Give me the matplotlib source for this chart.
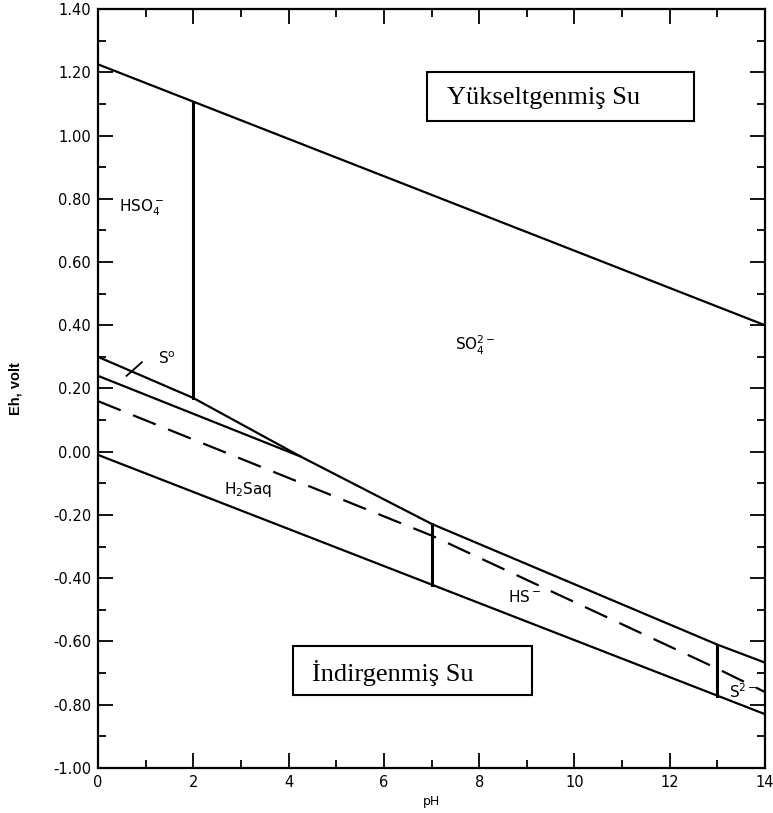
import numpy as np
import matplotlib
matplotlib.use('agg')
from matplotlib import pyplot as plt
from matplotlib.patches import Rectangle
from matplotlib.ticker import MultipleLocator, FormatStrFormatter

# ====================================
# Eh-pH diagram data (S-O-H system)
# ====================================
ph_water = [0, 14]
eh_o2 = [1.225, 0.40]      # upper water stability limit
eh_h2 = [-0.01, -0.83]     # lower water stability limit

ph_sulfate = [0, 2, 4.25, 7, 13, 14]
eh_sulfate = [0.30, 0.17, -0.015, -0.228, -0.61, -0.667]

ph_s0 = [0, 4.25]
eh_s0 = [0.24, -0.015]

ph_dash = [0, 7, 13, 14]
eh_dash = [0.16, -0.265, -0.686, -0.76]

ph_bounds = [2, 7, 13]     # vertical species boundaries

species = ["HSO$_4^-$", "SO$_4^{2-}$", "S$^{\\mathrm{o}}$", "H$_2$Saq", "HS$^-$", "S$^{2-}$"]
species_ph = [0.45, 7.5, 1.25, 2.65, 8.6, 13.25]
species_eh = [0.77, 0.335, 0.295, -0.12, -0.46, -0.76]

plt.rcParams['axes.unicode_minus'] = False
plt.rcParams['font.family'] = 'DejaVu Sans'

fig = plt.figure(figsize=(7.73, 8.13), dpi=100)
ax = fig.add_axes([0.1268, 0.0554, 0.8629, 0.9335])

lw = 1.6
ax.plot(ph_water, eh_o2, color='black', lw=lw)
ax.plot(ph_water, eh_h2, color='black', lw=lw)
ax.plot(ph_sulfate, eh_sulfate, color='black', lw=lw)
ax.plot(ph_s0, eh_s0, color='black', lw=lw)
ax.plot(ph_dash, eh_dash, color='black', lw=lw, dashes=(11, 6))

# vertical boundaries
for p in ph_bounds:
    top = np.interp(p, ph_sulfate, eh_sulfate)
    bot = np.interp(p, ph_water, eh_h2)
    if p == 2:
        top = np.interp(p, ph_water, eh_o2)
        bot = np.interp(p, ph_sulfate, eh_sulfate)
    ax.plot([p, p], [bot, top], color='black', lw=2.2)

# leader mark for S0 field
ax.plot([0.6, 0.92], [0.24, 0.283], color='black', lw=1.3)

for lab, x, y in zip(species, species_ph, species_eh):
    ax.text(x, y, lab, fontsize=11, va='center', ha='left')

# water boxes
ax.add_patch(Rectangle((6.9, 1.047), 5.6, 0.153, fill=False, ec='black', lw=1.5, zorder=5))
ax.text(7.33, 1.12, "Yükseltgenmiş Su", fontsize=19, family='Liberation Serif',
        va='center', ha='left')
ax.add_patch(Rectangle((4.09, -0.768), 5.02, 0.155, fill=False, ec='black', lw=1.5, zorder=5))
ax.text(4.5, -0.7, "İndirgenmiş Su", fontsize=19, family='Liberation Serif',
        va='center', ha='left')

ax.set_xlim(0, 14)
ax.set_ylim(-1.0, 1.4)
ax.xaxis.set_major_locator(MultipleLocator(2))
ax.xaxis.set_minor_locator(MultipleLocator(1))
ax.yaxis.set_major_locator(MultipleLocator(0.2))
ax.yaxis.set_minor_locator(MultipleLocator(0.1))
ax.yaxis.set_major_formatter(FormatStrFormatter('%.2f'))

ax.tick_params(which='both', direction='in', top=True, right=True, width=1.3)
ax.tick_params(which='major', length=11, labelsize=10.5, pad=5)
ax.tick_params(which='minor', length=6)
for s in ax.spines.values():
    s.set_linewidth(1.6)

ax.set_xlabel("pH", fontsize=9, labelpad=4)
ax.set_ylabel("Eh, volt", fontsize=10.5, fontweight='bold', family='Liberation Sans', labelpad=22)

plt.savefig('out.png', dpi=100)
